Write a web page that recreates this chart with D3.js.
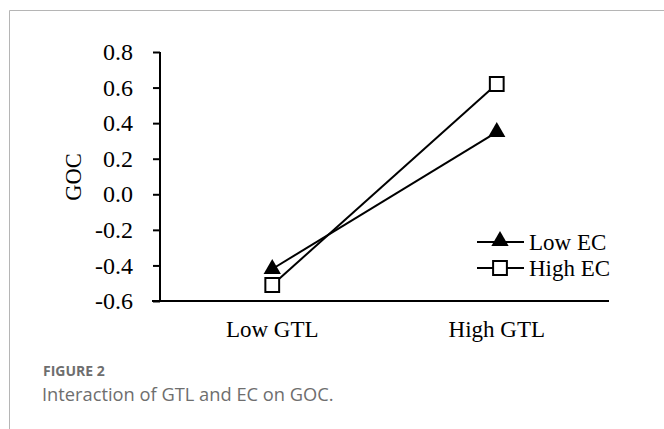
<!DOCTYPE html>
<html lang="en">
<head>
<meta charset="utf-8">
<title>Interaction of GTL and EC on GOC</title>
<script src="https://d3js.org/d3.v7.min.js"></script>
<style>
  body { margin: 0; background: #fff; }
  .tick text, .lbl { font-family: "Liberation Serif", "Times New Roman", serif; fill: #000; }
  .cap { font-family: "Open Sans", Lato, sans-serif; fill: #6e6e6e; }
</style>
</head>
<body>
<script>
// data
var categories = ["Low GTL", "High GTL"];
var series = ["Low EC", "High EC"];
var lowEC = [-0.42, 0.35];
var highEC = [-0.51, 0.62];
var yTicks = [-0.6, -0.4, -0.2, 0.0, 0.2, 0.4, 0.6, 0.8];

var W = 664, H = 429;
var svg = d3.select("body").append("svg").attr("width", W).attr("height", H);

// frame lines of the figure panel
svg.append("line").attr("x1", 9.5).attr("x2", W).attr("y1", 10.5).attr("y2", 10.5)
  .attr("stroke", "#b5b5b5").attr("stroke-width", 1);
svg.append("line").attr("x1", 9.5).attr("x2", 9.5).attr("y1", 10.5).attr("y2", H)
  .attr("stroke", "#b5b5b5").attr("stroke-width", 1);

var x = d3.scaleBand().domain(categories).range([160, 609]).padding(0);
var y = d3.scaleLinear().domain([-0.6, 0.8]).range([301, 52]);

// y axis
var gy = svg.append("g").attr("transform", "translate(160,0)")
  .call(d3.axisLeft(y).tickValues(yTicks).tickSize(7).tickPadding(20).tickFormat(d3.format(".1f")));
gy.selectAll("path, line").attr("stroke", "#000").attr("stroke-width", 2);
gy.select(".domain").attr("d", "M0," + y(0.8) + "V" + y(-0.6));
gy.selectAll(".tick text").attr("font-size", 24).text(function(d) { return d3.format(".1f")(d).replace("−", "-"); });

// x axis
var gx = svg.append("g").attr("transform", "translate(0,301)")
  .call(d3.axisBottom(x).tickSize(0).tickPadding(20));
gx.select(".domain").attr("stroke", "#000").attr("stroke-width", 2).attr("d", "M152,0H609");
gx.selectAll(".tick text").attr("font-size", 23);

svg.append("text").attr("class", "lbl").attr("font-size", 22.5)
  .attr("transform", "translate(81,177) rotate(-90)").attr("text-anchor", "middle").text("GOC");

var line = d3.line().x(function(d, i) { return x(categories[i]) + x.bandwidth() / 2; }).y(function(d) { return y(d); });
var tri = d3.symbol().type(d3.symbolTriangle).size(130);
var sq = d3.symbol().type(d3.symbolSquare).size(190);

[lowEC, highEC].forEach(function(vals, k) {
  svg.append("path").datum(vals).attr("d", line).attr("fill", "none").attr("stroke", "#000").attr("stroke-width", 2);
  svg.selectAll(".m" + k).data(vals).enter().append("path")
    .attr("transform", function(d, i) { return "translate(" + (x(categories[i]) + x.bandwidth() / 2) + "," + y(d) + ")"; })
    .attr("d", k === 0 ? tri : sq)
    .attr("fill", k === 0 ? "#000" : "#fff")
    .attr("stroke", "#000").attr("stroke-width", k === 0 ? 0 : 2);
});

// legend
var leg = svg.append("g");
series.forEach(function(s, k) {
  var ly = 242 + k * 26;
  leg.append("line").attr("x1", 477).attr("x2", 524).attr("y1", ly).attr("y2", ly).attr("stroke", "#000").attr("stroke-width", 2);
  leg.append("path").attr("transform", "translate(500," + (k === 0 ? ly - 1 : ly) + ")")
    .attr("d", k === 0 ? tri : sq).attr("fill", k === 0 ? "#000" : "#fff")
    .attr("stroke", "#000").attr("stroke-width", k === 0 ? 0 : 2);
  leg.append("text").attr("class", "lbl").attr("font-size", 23).attr("x", 529).attr("y", ly + 8).text(s);
});

// caption
svg.append("text").attr("class", "cap").attr("x", 43).attr("y", 376).attr("font-size", 14).attr("font-weight", 700).text("FIGURE 2");
svg.append("text").attr("class", "cap").attr("x", 42).attr("y", 401).attr("font-size", 18.3).text("Interaction of GTL and EC on GOC.");
</script>
</body>
</html>
